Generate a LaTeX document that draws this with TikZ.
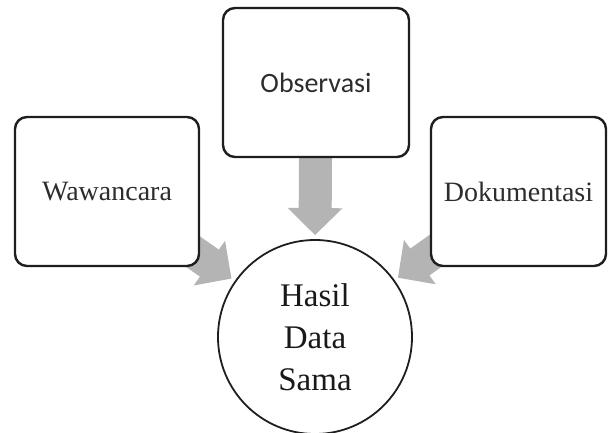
\documentclass[tikz,border=0pt]{standalone}
\usepackage{fontspec}
\setmainfont{Liberation Serif}
\newfontfamily\obsfont{Carlito}
\usetikzlibrary{arrows.meta,backgrounds}
\definecolor{arrowgray}{RGB}{180,180,180}
\definecolor{inkgray}{RGB}{30,30,30}
\definecolor{textgray}{RGB}{45,45,45}
\begin{document}
\begin{tikzpicture}[x=1pt,y=-1pt,
  box/.style={draw=inkgray, line width=2.4pt, rounded corners=12pt, fill=white,
    minimum height=149pt, inner sep=0pt, text=textgray,
    font=\fontsize{28}{34}\selectfont},
  bigarrow/.style={draw=arrowgray, line width=33pt,
    -{Triangle[length=27pt,width=53pt]}, shorten >=4pt}]
\useasboundingbox (0,0) rectangle (608,433);
\node[box, minimum width=186pt, font=\obsfont\fontsize{28}{34}\selectfont] (obs) at (316,82.5) {Observasi};
\node[box, minimum width=184pt] (waw) at (107,191.5) {Wawancara};
\node[box, minimum width=175pt] (dok) at (518.5,191.5) {Dokumentasi};
\node[circle, draw=inkgray, line width=1.8pt, minimum size=194pt, inner sep=0pt,
  align=center, font=\fontsize{33}{42}\selectfont, text=black!90] (hasil) at (315,337) {Hasil\\Data\\Sama};
\begin{scope}[on background layer]
\draw[bigarrow] (obs.center) -- (hasil.north);
\draw[bigarrow] (waw.center) -- (hasil);
\draw[bigarrow] (dok.center) -- (hasil);
\end{scope}
\end{tikzpicture}
\end{document}
